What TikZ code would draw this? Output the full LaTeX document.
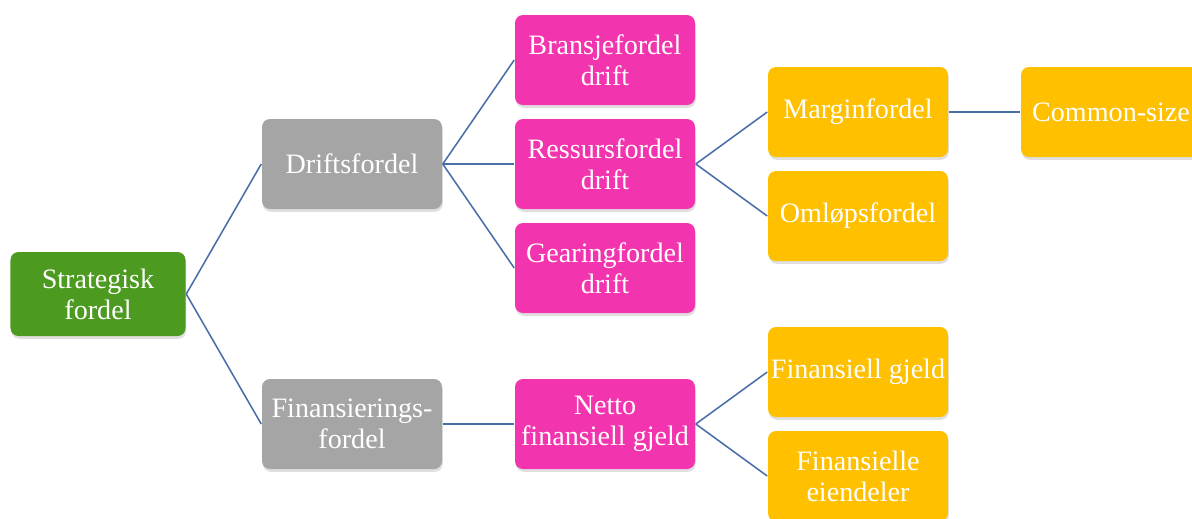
\documentclass[tikz,border=0pt]{standalone}
\usepackage{fontspec}
\setmainfont{Liberation Serif}
\usepackage{tikz}
\usetikzlibrary{shadows}
\definecolor{strgreen}{HTML}{4C9A20}
\definecolor{lvlgray}{HTML}{A5A5A5}
\definecolor{lvlpink}{HTML}{F234AE}
\definecolor{lvlyellow}{HTML}{FFC000}
\definecolor{linkblue}{HTML}{4A6EA8}

\begin{document}
\begin{tikzpicture}[draw=linkblue, line width=1.1pt]
    		\tikzstyle{box}=[rectangle,rounded corners=0.2cm,minimum width=4.5cm,minimum height=2.25cm,inner sep=0pt,text=white,align=center,font=\fontsize{20}{22}\selectfont,drop shadow={opacity=0.25,shadow xshift=0.02cm,shadow yshift=-0.07cm}]
    		\tikzstyle{root box}=[box, fill=strgreen, minimum width=4.375cm, minimum height=2.1cm];
    		\tikzstyle{gray box}=[box, fill=lvlgray];
    		\tikzstyle{pink box}=[box, fill=lvlpink];
    		\tikzstyle{yellow box}=[box, fill=lvlyellow];
    		
    		\clip (0,0) rectangle (29.8,-12.95);
    		\useasboundingbox (0,0) rectangle (29.8,-12.95);
    		
    		\node[root box] (S-1) at (2.45,-7.35) {Strategisk\\fordel};
    		
    		\node[gray box] (A-1) at (8.8,-4.1) {Driftsfordel};
    		\node[gray box] (A-2) at (8.8,-10.6) {Finansierings-\\fordel};
    		
    		\node[pink box] (B-1) at (15.125,-1.5) {Bransjefordel\\drift};
    		\node[pink box] (B-2) at (15.125,-4.1) {Ressursfordel\\drift};
    		\node[pink box] (B-3) at (15.125,-6.7) {Gearingfordel\\drift};
    		\node[pink box] (B-4) at (15.125,-10.6) {Netto\\finansiell gjeld};
    		
    		\node[yellow box] (C-1) at (21.45,-2.8) {Marginfordel};
    		\node[yellow box] (C-2) at (21.45,-5.4) {Omløpsfordel};
    		\node[yellow box] (C-3) at (21.45,-9.3) {Finansiell gjeld};
    		\node[yellow box] (C-4) at (21.45,-11.9) {Finansielle\\eiendeler};
    		
    		\node[yellow box] (D-1) at (27.775,-2.8) {Common-size};
    		
    		\draw (S-1.east) -- (A-1.west);
    		\draw (S-1.east) -- (A-2.west);
    		\foreach \i in {1,2,3}
    		    \draw (A-1.east) -- (B-\i.west);
    		\draw (A-2.east) -- (B-4.west);
    		\draw (B-2.east) -- (C-1.west);
    		\draw (B-2.east) -- (C-2.west);
    		\draw (B-4.east) -- (C-3.west);
    		\draw (B-4.east) -- (C-4.west);
    		\draw (C-1.east) -- (D-1.west);
    		
    	\end{tikzpicture}
\end{document}
